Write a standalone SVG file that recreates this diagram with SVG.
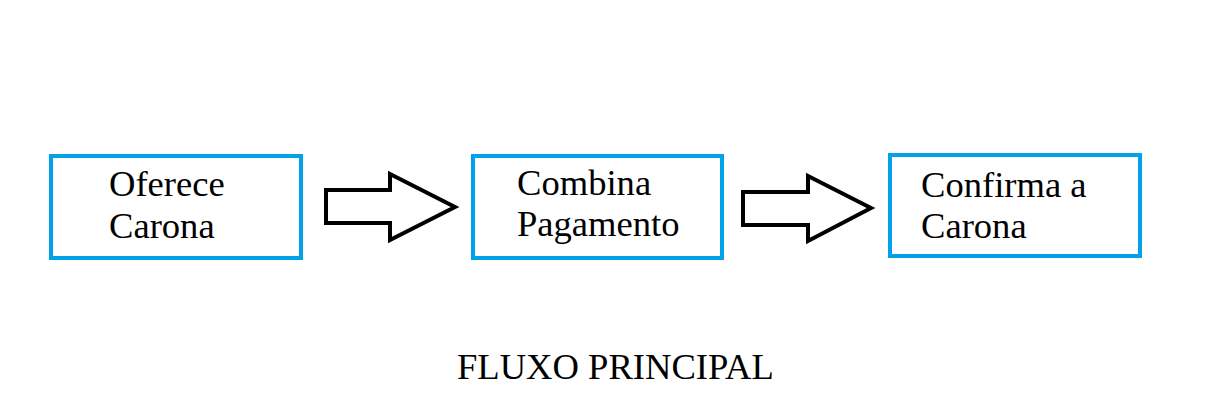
<svg xmlns="http://www.w3.org/2000/svg" width="1206" height="411" viewBox="0 0 1206 411">
<style>
.box{fill:#fff;stroke:#00a2e8;stroke-width:4}
.arr{fill:#fff;stroke:#000;stroke-width:4;stroke-linejoin:miter}
.t{font-family:"Liberation Serif","Times New Roman",serif;font-size:36.6px;fill:#000}
</style>
<rect width="1206" height="411" fill="#fff"/>
<g id="node1"><rect class="box" x="51" y="156" width="250" height="102"/><text class="t" x="109" y="196">Oferece</text><text class="t" x="109" y="238">Carona</text></g>
<g id="node2"><rect class="box" x="473" y="156" width="249" height="102"/><text class="t" x="517" y="195">Combina</text><text class="t" x="517" y="236">Pagamento</text></g>
<g id="node3"><rect class="box" x="890" y="155" width="250" height="101"/><text class="t" x="921" y="197">Confirma a</text><text class="t" x="921" y="238">Carona</text></g>
<g id="connectors">
<polygon class="arr" points="326,190 390,190 390,174 455,207 390,240 390,223 326,223"/>
<polygon class="arr" points="743,192 808,192 808,176 871,208 808,241 808,225 743,225"/>
</g>
<g id="caption"><text class="t" x="457" y="379">FLUXO PRINCIPAL</text></g>
</svg>
